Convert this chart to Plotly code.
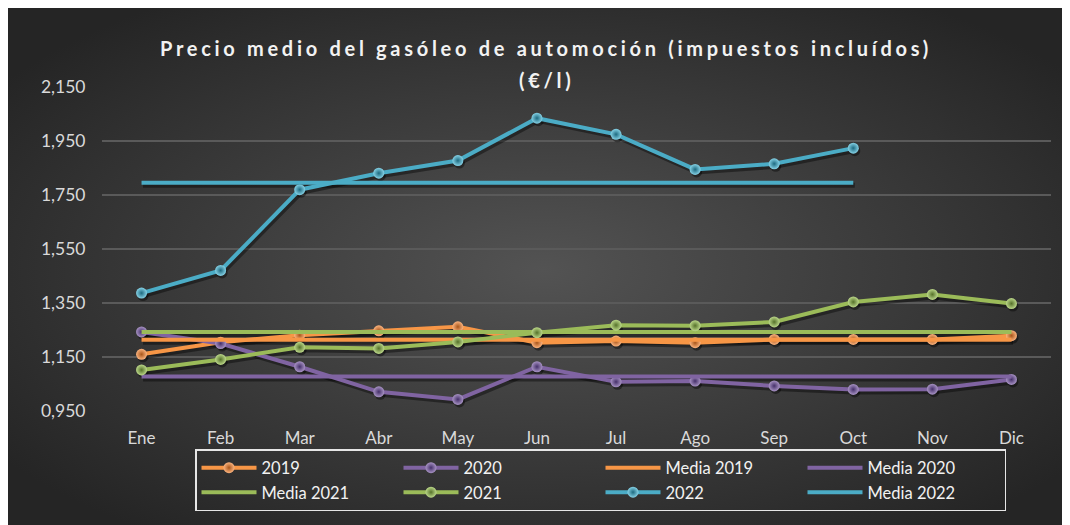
import base64
import plotly.graph_objects as go

# ---------------- data ----------------
months = ["Ene", "Feb", "Mar", "Abr", "May", "Jun", "Jul", "Ago", "Sep", "Oct", "Nov", "Dic"]
p2019 = [1.160, 1.205, 1.231, 1.247, 1.262, 1.203, 1.209, 1.203, 1.215, 1.215, 1.215, 1.229]
p2020 = [1.243, 1.200, 1.114, 1.021, 0.993, 1.114, 1.058, 1.061, 1.043, 1.030, 1.031, 1.067]
p2021 = [1.102, 1.141, 1.186, 1.182, 1.206, 1.240, 1.268, 1.266, 1.280, 1.354, 1.382, 1.348]
p2022 = [1.387, 1.471, 1.770, 1.831, 1.878, 2.035, 1.975, 1.845, 1.866, 1.924]
media_2019 = 1.214
media_2020 = 1.078
media_2021 = 1.243
media_2022 = 1.796
y_ticks = [0.950, 1.150, 1.350, 1.550, 1.750, 1.950, 2.150]

title_line1 = "Precio medio del gasóleo de automoción (impuestos incluídos)"
title_line2 = "(€/l)"

# ---------------- styling ----------------
ORANGE = "#F79646"
PURPLE = "#8064A2"
GREEN = "#9BBB59"
BLUE = "#4BACC6"
SPHERE = {
    ORANGE: ("#FBB37E", "#A9561A"),
    PURPLE: ("#A893C4", "#45306A"),
    GREEN: ("#BCD88A", "#56722A"),
    BLUE: ("#86D2E6", "#1D6A80"),
}
SHADOW = "rgba(0,0,0,0.40)"

W, H = 1070, 525
L, R, T, B = 94, 27, 79, 122
pw = W - L - R
ph = H - T - B
x_range = [-0.5, len(months) - 0.5]
y_range = [y_ticks[0], y_ticks[-1] + 0.0005]

# shadow offset (pixels) -> shifted ranges of the base axes
sdx, sdy = 1.5, 2.5
ux = (x_range[1] - x_range[0]) / pw
uy = (y_range[1] - y_range[0]) / ph
x_range_sh = [x_range[0] - sdx * ux, x_range[1] - sdx * ux]
y_range_sh = [y_range[0] + sdy * uy, y_range[1] + sdy * uy]


def px_x(x):
    return (x - L) / pw


def px_y(y):
    return (H - B - y) / ph


fig = go.Figure()
traces_main = []
traces_shadow = []


def series(name, y, color):
    c, g = SPHERE[color]
    xs = months[:len(y)]
    traces_shadow.append(go.Scatter(
        x=xs, y=y, mode="lines+markers", showlegend=False, hoverinfo="skip",
        line=dict(color=SHADOW, width=5), marker=dict(size=11, color=SHADOW, line=dict(width=0)),
        xaxis="x", yaxis="y",
    ))
    traces_main.append(go.Scatter(
        x=xs, y=y, name=name, mode="lines+markers",
        line=dict(color=color, width=4),
        marker=dict(size=11, color=c, gradient=dict(type="radial", color=g),
                    line=dict(width=0)),
        xaxis="x2", yaxis="y2",
    ))


def mean_line(name, value, n, color):
    xs = months[:n]
    traces_shadow.append(go.Scatter(
        x=xs, y=[value] * n, mode="lines", showlegend=False, hoverinfo="skip",
        line=dict(color=SHADOW, width=5), xaxis="x", yaxis="y",
    ))
    traces_main.append(go.Scatter(
        x=xs, y=[value] * n, name=name, mode="lines",
        line=dict(color=color, width=4), xaxis="x2", yaxis="y2",
    ))


series("2019", p2019, ORANGE)
series("2020", p2020, PURPLE)
mean_line("Media 2019", media_2019, len(p2019), ORANGE)
mean_line("Media 2020", media_2020, len(p2020), PURPLE)
mean_line("Media 2021", media_2021, len(p2021), GREEN)
series("2021", p2021, GREEN)
series("2022", p2022, BLUE)
mean_line("Media 2022", media_2022, len(p2022), BLUE)

for t in traces_shadow:
    fig.add_trace(t)
for t in traces_main:
    fig.add_trace(t)

# background radial gradient as an inline svg image covering the whole paper
svg = (
    f'<svg xmlns="http://www.w3.org/2000/svg" width="{W}" height="{H}" viewBox="0 0 {W} {H}" '
    'preserveAspectRatio="none">'
    '<defs><radialGradient id="g" cx="50%" cy="50%" r="62%">'
    '<stop offset="0" stop-color="#535353"/><stop offset="1" stop-color="#252525"/>'
    f'</radialGradient></defs><rect x="0" y="0" width="{W}" height="{H}" fill="url(#g)"/></svg>'
)
src = "data:image/svg+xml;base64," + base64.b64encode(svg.encode()).decode()

fig.add_layout_image(dict(
    source=src, xref="paper", yref="paper",
    x=px_x(0), y=px_y(0), sizex=W / pw, sizey=H / ph,
    xanchor="left", yanchor="top", sizing="stretch", layer="below",
))

FONT = "Lato, 'Open Sans', sans-serif"

title_font = dict(family=FONT, size=20, color="#F2F2F2", weight="bold")
fig.add_annotation(text=f'<span style="letter-spacing:3.7px">{title_line1}</span>',
                   xref="paper", yref="paper",
                   x=px_x(538), y=px_y(40), showarrow=False,
                   xanchor="center", yanchor="middle", font=title_font)
fig.add_annotation(text=f'<span style="letter-spacing:3.7px">{title_line2}</span>',
                   xref="paper", yref="paper",
                   x=px_x(538), y=px_y(72), showarrow=False,
                   xanchor="center", yanchor="middle", font=title_font)

fig.update_layout(
    width=W, height=H,
    margin=dict(l=L, r=R, t=T, b=B),
    paper_bgcolor="#2A2A2A",
    plot_bgcolor="rgba(0,0,0,0)",
    separators=",.",
    font=dict(family=FONT, size=16, color="#D9D9D9"),
    showlegend=True,
    legend=dict(
        orientation="h", xref="paper", yref="paper",
        x=px_x(187), y=px_y(441), xanchor="left", yanchor="top",
        itemwidth=55, entrywidth=132, entrywidthmode="pixels",
        bgcolor="rgba(0,0,0,0)", bordercolor="#E6E6E6", borderwidth=1.5,
        font=dict(family=FONT, size=16.5, color="#F2F2F2"),
        traceorder="normal",
    ),
    xaxis=dict(
        type="category", categoryorder="array", categoryarray=months,
        range=x_range_sh, showgrid=False, zeroline=False, showline=False,
        showticklabels=False, ticks="",
    ),
    yaxis=dict(
        range=y_range_sh, showgrid=False, zeroline=False, showline=False,
        showticklabels=False, ticks="",
    ),
    xaxis2=dict(
        type="category", categoryorder="array", categoryarray=months,
        overlaying="x", side="bottom",
        range=x_range, showgrid=False, zeroline=False, showline=False,
        ticks="outside", ticklen=12, tickcolor="rgba(0,0,0,0)",
        tickfont=dict(family=FONT, size=17, color="#D9D9D9"),
    ),
    yaxis2=dict(
        overlaying="y", side="left",
        range=y_range, tickmode="array", tickvals=y_ticks,
        tickformat=".3f", showgrid=True, gridcolor="#5A5A5A", gridwidth=1.5,
        zeroline=False, showline=False,
        ticks="outside", ticklen=12, tickcolor="rgba(0,0,0,0)",
        tickfont=dict(family=FONT, size=17.5, color="#D9D9D9"),
    ),
)

fig.write_html("out.html")
